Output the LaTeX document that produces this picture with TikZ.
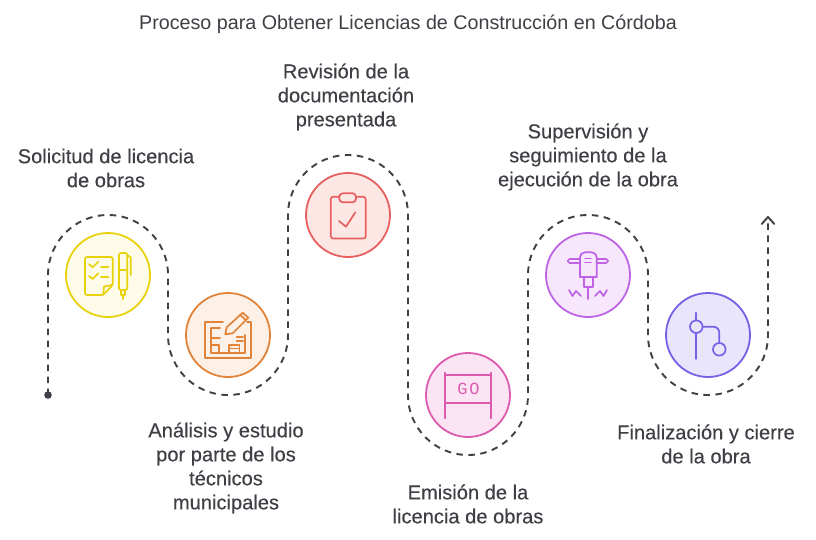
\documentclass[tikz,border=0pt]{standalone}
\usepackage{fontspec}
\setmainfont{Liberation Sans}
\newfontfamily\labelface[FakeBold=0.25]{Liberation Sans}
\newfontfamily\goface[LetterSpace=10]{Liberation Mono}
\usetikzlibrary{arrows.meta}
\definecolor{ink}{HTML}{3F3F46}
\definecolor{ylS}{HTML}{E8D20C}\definecolor{ylF}{HTML}{FEFCE8}
\definecolor{orS}{HTML}{E2833A}\definecolor{orF}{HTML}{FDF0E6}
\definecolor{rdS}{HTML}{E85F5F}\definecolor{rdF}{HTML}{FDE7E4}
\definecolor{pkS}{HTML}{DC5BAE}\definecolor{pkF}{HTML}{FBE5F4}
\definecolor{puS}{HTML}{BE63E4}\definecolor{puF}{HTML}{F6E7FD}
\definecolor{inS}{HTML}{7361E6}\definecolor{inF}{HTML}{E8E5FD}
\tikzset{
  x=1pt,y=-1pt,
  stage/.style={circle,draw=#1S,fill=#1F,line width=1.8pt,minimum size=84pt,inner sep=0pt},
  label/.style={text=ink,align=center,font=\labelface\fontsize{20.1}{24}\selectfont,inner sep=0pt},
  heading/.style={text=ink,font=\fontsize{19.7}{24}\selectfont,inner sep=0pt},
  route/.style={draw=ink,line width=1.9pt,dash pattern=on 6.5pt off 5.5pt},
  icon/.style={draw=#1S,line width=1.7pt,line cap=round,line join=round},
}
\begin{document}
\begin{tikzpicture}
\useasboundingbox (0,0) rectangle (816,540);
\fill[white] (0,0) rectangle (816,540);
\node[heading] (title) at (408,24) {Proceso para Obtener Licencias de Construcción en Córdoba};
% stages
\node[stage=yl] (s1) at (108,275) {};
\node[stage=or] (s2) at (228,335) {};
\node[stage=rd] (s3) at (348,215) {};
\node[stage=pk] (s4) at (468,395) {};
\node[stage=pu] (s5) at (588,275) {};
\node[stage=in] (s6) at (708,335) {};
% labels
\node[label] (l1) at (106,168) {Solicitud de licencia\\de obras};
\node[label] (l2) at (226,468) {Análisis y estudio\\por parte de los\\técnicos\\municipales};
\node[label] (l3) at (346,97) {Revisión de la\\documentación\\presentada};
\node[label] (l4) at (468,504) {Emisión de la\\licencia de obras};
\node[label] (l5) at (588,157) {Supervisión y\\seguimiento de la\\ejecución de la obra};
\node[label] (l6) at (706,444) {Finalización y cierre\\de la obra};
% route
\fill[ink] (48,395) circle (3.8pt) coordinate (start);
\coordinate (finish) at (768,217);
\draw[route] (start) -- (48,275) arc[start angle=180,end angle=360,radius=60]
  -- (168,335) arc[start angle=180,end angle=0,radius=60]
  -- (288,215) arc[start angle=180,end angle=360,radius=60]
  -- (408,395) arc[start angle=180,end angle=0,radius=60]
  -- (528,275) arc[start angle=180,end angle=360,radius=60]
  -- (648,335) arc[start angle=180,end angle=0,radius=60]
  -- (finish);
\draw[ink,line width=1.9pt,line cap=round,line join=round] (761.7,224) -- (finish) -- (774.3,224);
% icon 1: checklist and pen
\begin{scope}[icon=yl]
\draw[rounded corners=2pt] (85,257) -- (112.7,257) -- (112.7,285) -- (103.3,295) -- (85,295) -- cycle;
\draw (112.7,285) -- (104,286.5) -- (103.3,295);
\draw (89,264.3) -- (92.7,267.3) -- (98.3,261.7);
\draw (89,276) -- (92.7,279) -- (98.3,273.3);
\draw (101,266.7) -- (108.3,266.7);
\draw (101,276.7) -- (108.3,276.7);
\draw[rounded corners=1.5pt] (119,253) rectangle (127.3,290);
\draw (119,270) -- (127.3,270);
\draw (127.3,255) -- (130.7,257.5) -- (130.7,275);
\draw (121,290) -- (121,295) -- (125,295) -- (125,290);
\draw (123,295) -- (123,299);
\end{scope}
% icon 2: plan and pencil
\begin{scope}[icon=or]
\draw (223,322.3) -- (205,322.3) -- (205,358.3) -- (251.3,358.3) -- (251.3,322.3) -- (247,322.3);
\draw (220,328.3) -- (211,328.3) -- (211,353.3) -- (245,353.3) -- (245,335);
\draw (211,338) -- (220,338);
\draw (211,345) -- (219,345) -- (219,353.3);
\draw (229,353.3) -- (229,345) -- (239.5,345) -- (239.5,353.3);
\draw (229,348.5) -- (239.5,348.5);
\draw (236.7,336.7) -- (243,336.7);
\draw (236.7,340.7) -- (243,340.7);
\draw (226.7,327.3) -- (242.7,312.7) -- (248.3,317.7) -- (232.7,333.3) -- (225.3,334.3) -- cycle;
\draw (240.2,315) -- (245.8,320);
\end{scope}
% icon 3: clipboard
\begin{scope}[icon=rd]
\draw[rounded corners=2.5pt] (339.5,196.7) -- (330.7,196.7) -- (330.7,238.5) -- (365.7,238.5) -- (365.7,196.7) -- (356,196.7);
\draw[rounded corners=3.5pt] (339.3,193.3) rectangle (356,202.3);
\draw (339,221) -- (346,226.7) -- (355.3,212.3);
\end{scope}
% icon 4: GO banner
\begin{scope}[icon=pk]
\draw (445,372.7) -- (445,418.3);
\draw (491,372.7) -- (491,418.3);
\draw (445,375) -- (491,375);
\draw (445,402.7) -- (491,402.7);
\node[text=pkS,font=\goface\fontsize{17}{18}\selectfont,inner sep=0pt] (go) at (468.5,389) {GO};
\end{scope}
% icon 5: jackhammer
\begin{scope}[icon=pu]
\draw[rounded corners=1.8pt] (580,259) -- (567.7,259) -- (567.7,263) -- (580,263);
\draw[rounded corners=1.8pt] (596.7,259) -- (608,259) -- (608,263) -- (596.7,263);
\draw[rounded corners=5pt] (580,277) -- (580,252.3) -- (596.7,252.3) -- (596.7,277);
\draw (580,277) -- (596.7,277);
\draw (585,258.5) -- (591,258.5);
\draw (585,262.5) -- (591,262.5);
\draw (584,277) -- (584,286.7) -- (592.7,286.7) -- (592.7,277);
\draw (588.3,286.7) -- (588.3,299);
\draw (569,290) -- (572.5,296) -- (576,291) -- (581,296);
\draw (595,296) -- (600,291) -- (603.5,296) -- (607,290);
\end{scope}
% icon 6: branch
\begin{scope}[icon=in]
\draw (696.3,312.7) -- (696.3,320.4);
\draw (696.3,333) -- (696.3,359);
\draw (696.3,326.7) circle (6.3pt);
\draw[rounded corners=6pt] (702.6,326.7) -- (719.3,326.7) -- (719.3,343);
\draw (719.3,349.3) circle (6.3pt);
\end{scope}
\end{tikzpicture}
\end{document}
